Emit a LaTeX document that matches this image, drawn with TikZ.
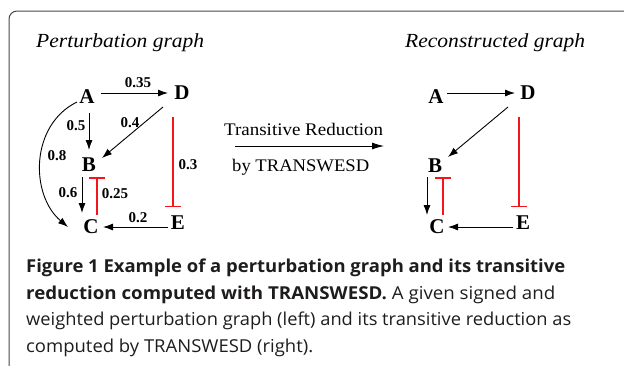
\documentclass[tikz,border=0pt]{standalone}
\usepackage{graphicx}
\usepackage{fontspec}
\setmainfont{Liberation Serif}
\newfontfamily\capfont{Open Sans}
\usetikzlibrary{arrows.meta,calc}
\definecolor{inhred}{RGB}{245,20,28}
\definecolor{framegray}{RGB}{70,70,70}
\definecolor{captext}{RGB}{30,28,28}
\newcommand\fitto[2]{\resizebox{#1}{\height}{#2}}
\tikzset{
  vert/.style={font=\fontsize{21}{21}\selectfont\bfseries, inner sep=0pt, text depth=0pt},
  wlabel/.style={font=\fontsize{15}{15}\selectfont\bfseries, inner sep=0pt},
  act/.style={line width=0.9pt, -{Latex[length=10pt,width=7pt]}},
  inh/.style={line width=1.15pt, draw=inhred, -{Bar[width=16pt,line width=1.5pt,color=inhred]}},
  gtitle/.style={font=\fontsize{20}{20}\selectfont\itshape, inner sep=0pt, anchor=base west},
  midtext/.style={font=\fontsize{17.7}{17.7}\selectfont, inner sep=0pt, anchor=base west},
  capline/.style={font=\capfont\fontsize{17.8}{17.8}\selectfont, text=captext, inner sep=0pt, anchor=base west}
}
\begin{document}
\begin{tikzpicture}[x=1pt,y=-1pt]
\useasboundingbox (0,0) rectangle (624,365);
% frame
\draw[framegray, line width=1pt, rounded corners=8pt] (9,380) -- (9,11) -- (640,11);

% titles
\node[gtitle] (t1) at (36,47) {\fitto{168pt}{Perturbation graph}};
\node[gtitle] (t2) at (405,47) {\fitto{180pt}{Reconstructed graph}};

% left graph
\node[vert] (A1) at (87,97) {A};
\node[vert] (D1) at (182,93) {D};
\node[vert] (B1) at (89,165) {B};
\node[vert] (C1) at (91,227) {C};
\node[vert] (E1) at (178,223) {E};

\draw[act] ($(A1)+(14,-4)$) -- ($(D1)+(-14,0)$);
\draw[act] ($(A1)+(2,16)$) -- ($(B1)+(0,-15)$);
\draw[act] ($(D1)+(-19,14)$) -- ($(B1)+(13,-7)$);
\draw[act] ($(A1)+(-10,5)$) .. controls ($(A1)+(-57,28)$) and ($(C1)+(-61,-32)$) .. ($(C1)+(-23,0)$);
\draw[inh] ($(D1)+(-9,24)$) -- ($(E1)+(-5,-16)$);
\draw[act] ($(B1)+(-7,12)$) -- ($(C1)+(-9,-14)$);
\draw[inh] ($(C1)+(6,-12)$) -- ($(B1)+(8,12)$);
\draw[act] ($(E1)+(-10,4)$) -- ($(C1)+(12,0)$);

\node[wlabel] (l035) at (138,83) {0.35};
\node[wlabel] (l05) at (76,126) {0.5};
\node[wlabel] (l04) at (130,123) {0.4};
\node[wlabel] (l08) at (57,156) {0.8};
\node[wlabel] (l03) at (188,165) {0.3};
\node[wlabel] (l06) at (68,193) {0.6};
\node[wlabel] (l025) at (115,194) {0.25};
\node[wlabel] (l02) at (138,218) {0.2};

% middle arrow
\node[midtext] (m1) at (224,135) {\fitto{159pt}{Transitive Reduction}};
\node[midtext] (m2) at (232,171.5) {\fitto{137pt}{by TRANSWESD}};
\coordinate (ms) at (235,146);
\coordinate (me) at (384,146);
\draw[line width=0.9pt, -{Latex[length=12pt,width=7pt]}] (ms) -- (me);

% right graph
\node[vert] (A2) at (436,97) {A};
\node[vert] (D2) at (528,93) {D};
\node[vert] (B2) at (435,166) {B};
\node[vert] (C2) at (437,227) {C};
\node[vert] (E2) at (523,223) {E};

\draw[act] ($(A2)+(11,-4)$) -- ($(D2)+(-13,0)$);
\draw[act] ($(D2)+(-20,14)$) -- ($(B2)+(13,-9)$);
\draw[inh] ($(D2)+(-9,24)$) -- ($(E2)+(-4,-16)$);
\draw[act] ($(B2)+(-8,11)$) -- ($(C2)+(-10,-12)$);
\draw[inh] ($(C2)+(6,-12)$) -- ($(B2)+(8,11)$);
\draw[act] ($(E2)+(-10,4)$) -- ($(C2)+(11,0)$);

% caption
\node[capline] (c1) at (26,272.5) {\fitto{539pt}{\bfseries Figure 1 Example of a perturbation graph and its transitive}};
\node[capline] (c2) at (26,299) {\fitto{529pt}{\bfseries reduction computed with TRANSWESD.\mdseries{} A given signed and}};
\node[capline] (c3) at (26,325.5) {\fitto{545pt}{weighted perturbation graph (left) and its transitive reduction as}};
\node[capline] (c4) at (26,352) {\fitto{287pt}{computed by TRANSWESD (right).}};
\end{tikzpicture}
\end{document}
